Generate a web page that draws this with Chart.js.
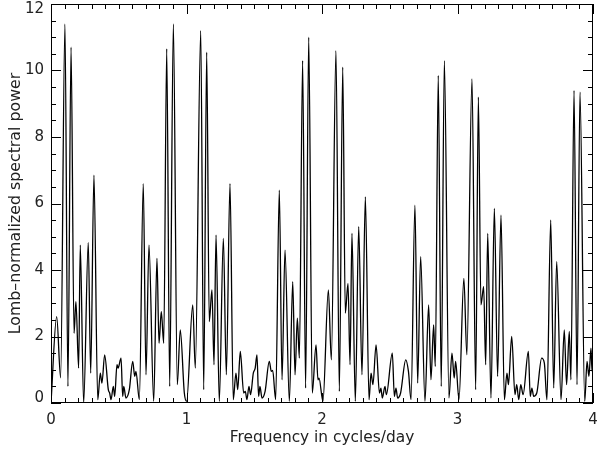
<!DOCTYPE html>
<html><head><meta charset="utf-8">
<script src="https://cdn.jsdelivr.net/npm/chart.js@4/dist/chart.umd.min.js"></script>
<style>html,body{margin:0;padding:0;background:#fff}#wrap{width:600px;height:449px}</style>
</head><body><div id="wrap"><canvas id="c" width="600" height="449"></canvas></div>
<script>
const freq = [0.000,0.042,0.071,0.103,0.125,0.148,0.170,0.184,0.204,0.216,0.241,0.275,0.293,0.317,0.345,0.364,0.376,0.396,0.423,0.433,0.443,0.460,0.470,0.487,0.495,0.517,0.529,0.537,0.553,0.578,0.603,0.618,0.627,0.652,0.681,0.701,0.723,0.758,0.782,0.797,0.814,0.832,0.854,0.876,0.903,0.932,0.954,0.984,
1.001,1.046,1.065,1.105,1.127,1.149,1.168,1.188,1.203,1.218,1.242,1.272,1.294,1.321,1.345,1.365,1.378,1.397,1.422,1.434,1.446,1.461,1.473,1.493,1.507,1.520,1.532,1.542,1.557,1.580,1.611,1.626,1.636,1.658,1.685,1.705,1.727,1.759,1.784,1.801,1.818,1.833,1.857,1.879,1.902,1.928,1.956,1.970,1.978,
2.007,2.047,2.069,2.103,2.128,2.153,2.172,2.192,2.207,2.221,2.246,2.271,2.295,2.320,2.347,2.362,2.376,2.399,2.424,2.435,2.445,2.465,2.475,2.519,2.534,2.546,2.558,2.580,2.618,2.638,2.657,2.686,2.706,2.728,2.760,2.787,2.804,2.824,2.836,2.858,2.880,2.903,2.937,2.959,2.976,2.986,
3.011,3.047,3.069,3.107,3.134,3.154,3.173,3.193,3.208,3.223,3.247,3.272,3.296,3.321,3.346,3.365,3.376,3.400,3.424,3.437,3.452,3.467,3.484,3.523,3.537,3.549,3.562,3.585,3.621,3.641,3.660,3.688,3.710,3.732,3.764,3.788,3.805,3.825,3.837,3.860,3.882,3.904,3.939,3.956,3.970,3.985,3.993,4.000];
const power = [0.0,2.6,0.76,11.4,0.5,10.7,2.1,3.05,1.05,4.75,0.0,4.82,0.9,6.85,0.1,0.9,0.6,1.45,0.4,0.3,0.1,0.5,0.2,1.15,1.05,1.35,0.2,0.5,0.15,0.4,1.25,0.8,0.95,0.1,6.6,0.85,4.75,0.05,4.35,1.8,2.75,1.8,10.65,0.5,11.4,0.55,2.2,0.3,
0.05,2.95,1.05,11.2,0.4,10.55,2.45,3.4,1.15,5.05,0.05,4.95,0.85,6.6,0.1,0.9,0.4,1.55,0.3,0.35,0.1,0.5,0.25,0.9,1.05,1.45,0.2,0.5,0.15,0.35,1.25,0.95,0.98,0.1,6.4,0.7,4.6,0.05,3.65,0.85,2.55,1.35,10.3,0.45,11.0,0.3,1.75,0.7,0.75,
0.05,3.4,1.3,10.6,0.35,10.1,2.7,3.6,1.15,5.1,0.05,5.3,0.85,6.2,0.1,0.9,0.55,1.75,0.3,0.45,0.15,0.5,0.25,1.5,0.2,0.45,0.15,0.3,1.3,0.95,0.1,5.95,0.6,4.4,0.05,2.95,0.7,2.35,1.1,9.85,0.5,10.3,0.15,1.5,0.75,1.25,
0.1,3.75,1.45,9.75,0.4,9.2,2.95,3.5,1.15,5.1,0.15,5.85,0.8,5.65,0.1,0.9,0.55,2.0,0.25,0.55,0.1,0.55,0.25,1.55,0.2,0.45,0.2,0.3,1.35,1.2,0.1,5.5,0.45,4.25,0.1,2.2,0.55,2.15,0.7,9.4,0.55,9.35,0.05,1.25,0.8,1.65,0.95,1.1];
const xTickLabels = ['0','1','2','3','4'];
const yTickLabels = ['0','2','4','6','8','10','12'];
const xTitle = 'Frequency in cycles/day';
const yTitle = 'Lomb\u2013normalized spectral power';

const points = freq.map((f,i)=>({x:f,y:power[i]}));
const FONT = {family:'DejaVu Sans', size:15};
const TXT = '#222';

function noPad(s){ s.paddingLeft=0; s.paddingRight=0; s.paddingTop=0; s.paddingBottom=0; }

const frameTicks = {
  id:'frameTicks',
  afterDraw(chart){
    const {ctx, chartArea:a, scales:{x,y}} = chart;
    ctx.save();
    ctx.strokeStyle='#000'; ctx.lineWidth=1;
    ctx.strokeRect(a.left+0.5, a.top+0.5, a.right-a.left-1, a.bottom-a.top-1);
    ctx.beginPath();
    for(let k=0;k<=40;k++){
      const px=Math.round(x.getPixelForValue(k/10))+0.5;
      const L=(k%10===0)?10:5;
      ctx.moveTo(px,a.bottom); ctx.lineTo(px,a.bottom-L);
      ctx.moveTo(px,a.top); ctx.lineTo(px,a.top+L);
    }
    for(let k=0;k<=24;k++){
      const py=Math.round(y.getPixelForValue(k/2))+0.5;
      const L=(k%4===0)?10:5;
      ctx.moveTo(a.left,py); ctx.lineTo(a.left+L,py);
      ctx.moveTo(a.right,py); ctx.lineTo(a.right-L,py);
    }
    ctx.stroke();
    ctx.restore();
  }
};

new Chart(document.getElementById('c'),{
  type:'line',
  data:{datasets:[{data:points,borderColor:'#000',borderWidth:1.3,pointRadius:0,fill:false,cubicInterpolationMode:'monotone'}]},
  options:{
    responsive:false,animation:false,
    layout:{padding:{top:4,right:7,left:0,bottom:0}},
    plugins:{legend:{display:false},tooltip:{enabled:false}},
    scales:{
      x:{type:'linear',min:0,max:4,
        afterFit(s){s.height=46; noPad(s);},
        grid:{display:false,drawTicks:false},border:{display:false},
        ticks:{stepSize:1,padding:8,color:TXT,font:FONT,maxRotation:0,
          callback:(v)=>xTickLabels[Math.round(v)] ?? ''},
        title:{display:true,text:xTitle,color:TXT,font:{family:'DejaVu Sans',size:15.4},padding:{top:0,bottom:2}}},
      y:{type:'linear',min:0,max:12,
        afterFit(s){s.width=51; noPad(s);},
        grid:{display:false,drawTicks:false},border:{display:false},
        ticks:{stepSize:2,padding:7,color:TXT,font:{family:'DejaVu Sans',size:15,lineHeight:0.7},
          callback:(v)=>{const t=yTickLabels[Math.round(v/2)] ?? ''; return v===0?[t,'']:(v===12?['',t]:t);}},
        title:{display:true,text:yTitle,color:TXT,font:{family:'DejaVu Sans',size:15.8},padding:{top:6,bottom:0}}}
    }
  },
  plugins:[frameTicks]
});
</script></body></html>
